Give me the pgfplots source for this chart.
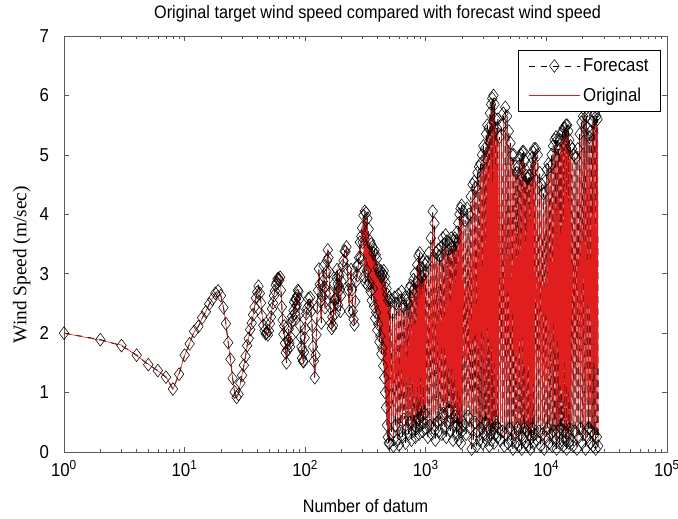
\documentclass[border=0pt]{standalone}
\usepackage{fontspec}
\setmainfont{Liberation Sans}[FakeStretch=0.9]
\newfontfamily\seriffont{Liberation Serif}
\usepackage{pgfplots}
\usepackage{pgfplotstable}
\pgfplotsset{compat=1.18}
\definecolor{myred}{RGB}{225,30,30}
\definecolor{axgray}{RGB}{90,90,90}
\pgfplotstableread{
x o f
1 2.00 2.00
2 1.88 1.89
3 1.80 1.79
4 1.62 1.63
5 1.48 1.47
6 1.36 1.37
7 1.27 1.26
8 1.05 1.06
9 1.33 1.31
10 1.62 1.63
11 1.83 1.82
12 2.02 2.03
13 2.12 2.11
14 2.25 2.26
15 2.37 2.36
16 2.48 2.49
17 2.58 2.57
18 2.66 2.67
19 2.72 2.71
20 2.62 2.63
21 2.44 2.43
22 2.15 2.16
23 1.85 1.84
24 1.55 1.56
25 1.25 1.24
26 1.00 1.01
27 0.90 0.92
28 0.98 0.97
29 1.15 1.16
30 1.30 1.29
31 1.45 1.46
32 1.62 1.61
33 1.78 1.79
34 1.92 1.91
35 2.05 2.06
36 2.18 2.17
37 2.30 2.31
38 2.45 2.44
39 2.58 2.59
40 2.70 2.69
41 2.78 2.79
42 2.68 2.67
43 2.50 2.51
44 2.30 2.29
45 2.12 2.13
46 2.05 2.04
47 1.98 1.99
48 2.02 2.01
49 1.96 1.97
50 2.05 2.04
51 2.15 2.16
52 2.28 2.27
53 2.40 2.41
54 2.52 2.51
55 2.62 2.63
56 2.72 2.71
57 2.80 2.81
58 2.86 2.85
59 2.90 2.91
60 2.93 2.92
61 2.88 2.89
62 2.95 2.94
63 2.70 2.72
64 2.45 2.44
65 2.20 2.22
66 2.00 1.98
67 2.10 2.12
68 1.85 1.83
69 1.65 1.67
70 1.52 1.50
71 1.70 1.72
72 1.90 1.88
73 2.05 2.07
74 1.85 1.83
75 1.75 1.77
76 1.95 1.93
77 2.15 2.17
78 2.30 2.28
79 2.20 2.22
80 2.40 2.38
81 2.50 2.52
82 2.35 2.33
83 2.55 2.57
84 2.60 2.58
85 2.45 2.47
86 2.65 2.63
87 2.70 2.72
88 2.72 2.70
89 2.55 2.57
90 2.35 2.33
91 2.10 2.12
92 1.95 1.93
93 1.75 1.77
94 1.60 1.58
95 1.70 1.72
96 1.55 1.53
97 1.50 1.52
98 1.70 1.68
99 1.90 1.92
100 2.10 2.08
102 2.30 2.33
104 2.45 2.42
106 2.55 2.58
108 2.50 2.47
110 2.56 2.60
112 2.40 2.37
114 2.10 2.13
116 1.80 1.77
118 1.50 1.53
120 1.28 1.25
122 1.60 1.63
124 2.00 1.97
126 2.40 2.43
128 2.75 2.72
130 3.05 3.08
132 2.85 2.82
134 2.50 2.53
136 2.20 2.17
138 2.60 2.63
140 2.90 2.87
142 3.10 3.13
144 2.80 2.77
146 2.40 2.43
148 2.70 2.67
150 3.00 3.03
152 3.25 3.22
154 3.38 3.40
156 3.30 3.27
158 3.00 3.03
160 2.70 2.67
162 2.40 2.43
164 2.20 2.17
166 2.05 2.08
168 2.30 2.27
170 2.10 2.13
172 2.50 2.47
174 2.80 2.83
176 2.60 2.57
178 2.30 2.33
180 2.60 2.57
182 2.90 2.93
184 3.10 3.07
186 2.80 2.83
188 2.50 2.47
190 2.75 2.78
192 3.00 2.97
194 2.70 2.73
196 2.40 2.37
198 2.60 2.63
200 2.90 2.87
204 3.10 3.13
208 3.25 3.22
212 3.35 3.38
216 3.40 3.37
220 3.42 3.45
224 3.10 3.07
228 2.70 2.73
232 2.40 2.37
236 2.80 2.83
240 3.10 3.07
244 2.70 2.73
248 2.40 2.37
252 2.20 2.23
256 2.17 2.14
260 2.50 2.53
264 2.90 2.87
268 3.10 3.13
272 3.00 2.97
276 3.12 3.15
280 3.30 3.27
284 3.50 3.53
288 3.30 3.27
292 3.60 3.63
296 3.80 3.77
300 3.50 3.53
304 3.95 3.98
308 3.00 2.95
312 4.05 4.05
316 2.90 2.85
320 4.00 4.02
324 3.10 3.05
328 3.90 3.93
332 2.85 2.80
336 3.70 3.75
340 2.90 2.85
344 3.50 3.55
348 2.75 2.70
352 3.45 3.50
356 2.60 2.55
360 3.40 3.45
364 2.80 2.75
368 3.30 3.35
372 2.50 2.45
376 3.35 3.40
380 2.30 2.25
384 3.28 3.32
388 2.40 2.35
392 3.20 3.25
396 2.10 2.05
400 3.05 3.10
404 2.20 2.15
408 3.00 3.05
412 1.90 1.85
416 2.95 3.00
420 2.00 1.95
424 3.00 3.05
428 1.70 1.65
432 2.90 2.95
436 1.80 1.75
440 2.95 3.00
444 1.50 1.45
448 3.00 3.05
452 1.30 1.25
456 2.90 2.95
460 1.05 1.00
464 2.80 2.85
468 0.80 0.75
472 2.70 2.75
476 0.50 0.45
480 2.60 2.65
484 0.30 0.25
488 2.50 2.55
492 0.20 0.15
496 2.50 2.60
500 0.25 0.15
510 2.45 2.55
520 0.40 0.30
530 2.20 2.35
540 0.15 0.10
550 2.50 2.60
560 0.60 0.45
570 2.35 2.50
580 0.30 0.20
590 2.55 2.65
600 0.20 0.12
610 2.40 2.55
620 0.50 0.35
630 2.60 2.70
640 0.35 0.25
650 2.30 2.45
660 0.70 0.55
670 2.50 2.60
680 0.25 0.15
690 2.45 2.55
700 0.55 0.40
710 2.35 2.50
720 0.40 0.30
730 2.60 2.75
740 0.65 0.50
750 2.70 2.80
760 0.30 0.20
770 2.55 2.70
780 0.45 0.35
790 2.80 2.90
800 0.60 0.45
810 2.90 3.00
820 0.35 0.25
830 2.75 2.85
840 0.50 0.40
850 3.05 3.15
860 0.70 0.55
870 3.20 3.30
880 0.40 0.30
890 3.30 3.35
900 0.55 0.45
910 3.00 3.10
920 0.75 0.60
930 2.85 2.95
940 0.45 0.35
950 3.10 3.20
960 0.60 0.50
970 2.90 3.00
980 0.80 0.65
990 3.05 3.15
1000 0.50 0.40
1020 3.10 3.20
1040 0.35 0.25
1060 3.25 3.35
1080 0.60 0.45
1100 3.50 3.60
1120 0.40 0.30
1140 4.00 4.05
1160 0.55 0.40
1180 3.70 3.85
1200 0.30 0.20
1220 3.20 3.35
1240 0.65 0.50
1260 3.30 3.40
1280 0.45 0.35
1300 3.15 3.30
1320 0.70 0.55
1340 3.35 3.45
1360 0.40 0.30
1380 3.50 3.60
1400 0.80 0.65
1420 3.40 3.50
1440 0.50 0.40
1460 3.55 3.65
1480 0.35 0.25
1500 3.45 3.55
1520 0.60 0.50
1540 3.30 3.40
1560 0.85 0.70
1580 3.40 3.50
1600 0.45 0.35
1620 3.50 3.60
1640 0.70 0.55
1660 3.35 3.45
1680 0.30 0.20
1700 3.45 3.55
1720 0.55 0.45
1740 3.50 3.60
1760 0.75 0.60
1780 3.40 3.55
1800 0.40 0.30
1820 3.60 3.70
1840 0.60 0.45
1860 3.75 3.85
1880 0.35 0.20
1900 3.90 4.00
1920 0.50 0.40
1940 4.00 4.10
1960 0.30 0.15
1980 4.10 4.15
2000 0.45 0.35
2040 3.95 4.05
2080 0.60 0.45
2120 3.80 3.90
2160 0.40 0.30
2200 4.00 4.10
2240 0.75 0.60
2280 3.90 4.00
2320 0.55 0.40
2360 4.20 4.30
2400 0.10 0.05
2440 4.40 4.50
2480 0.35 0.20
2520 4.50 4.55
2560 0.60 0.50
2600 4.30 4.45
2640 0.20 0.10
2680 4.60 4.70
2720 0.45 0.35
2760 4.70 4.80
2800 0.30 0.20
2840 4.75 4.85
2880 0.55 0.40
2920 4.90 5.00
2960 0.25 0.15
3000 5.10 5.15
3040 0.40 0.30
3080 5.00 5.10
3120 0.65 0.50
3160 5.25 5.35
3200 0.30 0.20
3240 5.40 5.50
3280 0.50 0.40
3320 5.30 5.45
3360 0.20 0.10
3400 5.60 5.70
3440 0.45 0.30
3480 5.75 5.85
3520 0.30 0.20
3560 5.85 5.95
3600 0.55 0.40
3640 5.95 6.00
3680 0.25 0.15
3720 5.70 5.85
3760 0.40 0.30
3800 5.50 5.60
3840 0.60 0.45
3880 5.30 5.45
3920 0.35 0.25
3960 5.55 5.60
4000 0.50 0.40
4080 5.20 5.30
4160 0.30 0.20
4240 5.40 5.50
4320 0.50 0.35
4400 5.60 5.70
4480 0.20 0.10
4560 5.75 5.80
4640 0.40 0.30
4720 5.50 5.65
4800 0.25 0.15
4880 5.30 5.40
4960 0.55 0.40
5040 5.15 5.20
5120 0.30 0.20
5200 4.90 5.00
5280 0.15 0.05
5360 4.95 5.00
5440 0.45 0.30
5520 4.70 4.80
5600 0.25 0.15
5680 4.60 4.70
5760 0.50 0.40
5840 4.70 4.80
5920 0.20 0.10
6000 4.85 4.95
6080 0.40 0.30
6160 4.90 5.00
6240 0.15 0.05
6320 4.95 5.05
6400 0.35 0.25
6480 5.00 5.05
6560 0.55 0.40
6640 4.80 4.90
6720 0.25 0.15
6800 4.55 4.65
6880 0.45 0.35
6960 4.50 4.60
7040 0.20 0.10
7120 4.60 4.65
7200 0.40 0.30
7280 4.55 4.65
7360 0.15 0.05
7440 4.75 4.85
7520 0.35 0.25
7600 4.85 4.95
7680 0.55 0.40
7760 4.95 5.05
7840 0.25 0.15
7920 5.00 5.10
8000 0.40 0.30
8160 5.05 5.10
8320 0.30 0.20
8480 4.90 5.00
8640 0.50 0.35
8800 4.60 4.70
8960 0.20 0.10
9120 4.40 4.50
9280 0.45 0.30
9440 4.25 4.35
9600 0.15 0.05
9760 4.45 4.55
9920 0.35 0.25
10080 4.65 4.75
10240 0.55 0.40
10400 4.80 4.85
10560 0.25 0.15
10720 4.70 4.80
10880 0.40 0.30
11040 4.90 5.00
11200 0.20 0.10
11360 5.05 5.15
11520 0.50 0.35
11680 5.15 5.25
11840 0.30 0.20
12000 5.20 5.30
12160 0.15 0.05
12320 5.10 5.25
12480 0.45 0.35
12640 5.00 5.10
12800 0.25 0.15
12960 5.15 5.25
13120 0.55 0.40
13280 5.25 5.35
13440 0.35 0.20
13600 5.30 5.40
13760 0.20 0.10
13920 5.35 5.45
14080 0.45 0.35
14240 5.40 5.45
14400 0.30 0.20
14560 5.45 5.50
14720 0.15 0.05
14880 5.40 5.50
15040 0.40 0.30
15200 5.30 5.40
15360 0.25 0.15
15520 5.15 5.25
15680 0.50 0.40
15840 5.05 5.15
16000 0.30 0.20
16320 5.00 5.10
16640 0.20 0.10
16960 4.90 5.00
17280 0.45 0.35
17600 4.85 4.95
17920 0.15 0.05
18240 5.00 5.10
18560 0.35 0.25
18880 5.25 5.35
19200 0.50 0.40
19520 5.45 5.55
19840 0.25 0.15
20160 5.60 5.65
20480 0.40 0.30
20800 5.70 5.75
21120 0.15 0.05
21440 5.55 5.65
21760 0.35 0.25
22080 5.35 5.45
22400 0.55 0.40
22720 5.20 5.30
23040 0.25 0.15
23360 5.30 5.40
23680 0.45 0.35
24000 5.45 5.55
24320 0.20 0.10
24640 5.60 5.65
24960 0.40 0.30
25280 5.65 5.70
25600 0.15 0.05
25920 5.55 5.65
26240 0.35 0.25
26560 5.50 5.60
26880 0.20 0.10
}\winddata
\begin{document}
\begin{tikzpicture}
\path[use as bounding box] (0,0) rectangle (508.5pt,388.5pt);
\begin{axis}[
  at={(48pt,49.5pt)}, anchor=south west,
  scale only axis, width=452.25pt, height=312pt,
  xmode=log, log basis x=10,
  xmin=1, xmax=100000, ymin=0, ymax=7,
  xtick={1,10,100,1000,10000,100000},
  xticklabels={10\textsuperscript{0},10\textsuperscript{1},10\textsuperscript{2},10\textsuperscript{3},10\textsuperscript{4},10\textsuperscript{5}},
  minor xtick={2,3,4,5,6,7,8,9,20,30,40,50,60,70,80,90,200,300,400,500,600,700,800,900,2000,3000,4000,5000,6000,7000,8000,9000,20000,30000,40000,50000,60000,70000,80000,90000},
  ytick={0,1,2,3,4,5,6,7},
  /pgf/number format/assume math mode=true,
  tick align=inside,
  major tick length=4pt, minor tick length=2.2pt,
  axis line style={axgray, line width=0.6pt},
  every tick/.style={axgray, line width=0.5pt},
  tick label style={font=\fontsize{14}{16}\selectfont},
  xticklabel style={anchor=base, yshift=-18pt},
  yticklabel style={anchor=east, inner sep=0pt, xshift=-11pt},
  title={Original target wind speed compared with forecast wind speed},
  title style={font=\fontsize{13.5}{16}\selectfont, at={(axis description cs:0.52,1)}, anchor=base, yshift=7pt},
  xlabel={Number of datum},
  xlabel style={font=\fontsize{13.5}{16}\selectfont, at={(axis description cs:0.5,0)}, anchor=base, yshift=-45pt},
  ylabel={\seriffont Wind Speed (m/sec)},
  ylabel style={font=\fontsize{14.5}{16}\selectfont, at={(axis description cs:-0.07,0.45)}, anchor=center},
  clip=false,
  legend style={at={(0.99,0.966)}, anchor=north east, line width=0.6pt,
    font=\fontsize{14}{17}\selectfont, inner xsep=7pt, inner ysep=4pt, row sep=7pt,
    cells={anchor=west}},
]
\addplot[draw=black, line width=0.7pt, dash pattern=on 5pt off 4pt, mark=diamond, mark size=4.8pt,
  mark options={solid, line width=0.4pt, draw=black, fill=none}, forget plot] table[x=x,y=f] {\winddata};
\addplot[draw=myred, line width=0.45pt, forget plot] table[x=x,y=o] {\winddata};
\addlegendimage{legend image code/.code={%
    \draw[black, line width=0.5pt, dash pattern=on 5pt off 4pt] (0cm,0cm) -- (1.36cm,0cm);
    \draw[black, line width=0.4pt] (0.68cm,0cm) +(0,4.8pt) -- +(3.6pt,0) -- +(0,-4.8pt) -- +(-3.6pt,0) -- cycle;}}
\addlegendentry{Forecast}
\addlegendimage{legend image code/.code={%
    \begin{scope}\pgfsetlinewidth{0.6pt}\pgfsetstrokecolor{myred}\pgfsetcolor{myred}\pgfsetdash{}{0pt}%
    \pgfpathmoveto{\pgfpointorigin}\pgfpathlineto{\pgfpoint{1.36cm}{0cm}}\pgfusepath{stroke}\end{scope}}}
\addlegendentry{Original}
\end{axis}
\end{tikzpicture}
\end{document}
